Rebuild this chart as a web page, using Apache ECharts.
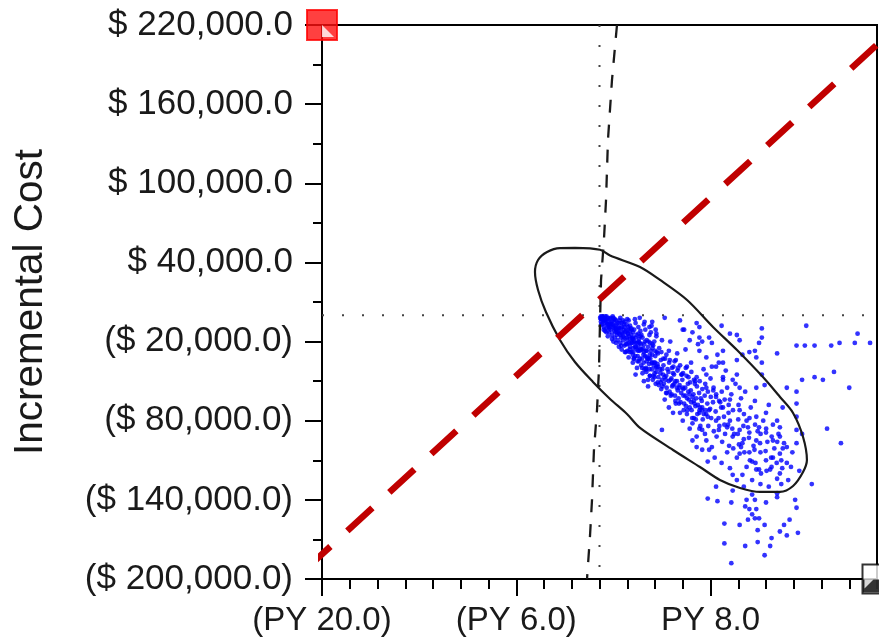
<!DOCTYPE html>
<html>
<head>
<meta charset="utf-8">
<script src="https://cdn.jsdelivr.net/npm/echarts@6/dist/echarts.min.js"></script>
<style>
  html, body { margin: 0; padding: 0; background: #fff; }
  #chart { width: 879px; height: 639px; }
</style>
</head>
<body>
<div id="chart"></div>
<script>
// Incremental cost is kept in thousands of dollars; labels print full dollars.
const costTicks = [-200, -140, -80, -20, 40, 100, 160, 220];
const costMinorTicks = [-170, -110, -50, 10, 70, 130, 190];
const effectLabelTicks = [-20, -6, 8];

// Willingness-to-pay threshold line (effect, cost k$)
const wtpLine = [[-21.2, -192.8], [19.96, 204.7]];

// Confidence ellipse outline (effect, cost k$)
const ellipse = [
  [-1.77, 51.0], [0.04, 49.6], [0.76, 45.2], [2.92, 36.5], [4.36, 26.7], [6.31, 11.5],
  [8.18, -8.9], [9.91, -26.4], [11.78, -46.9], [13.01, -62.0], [13.95, -74.1], [14.67, -92.3],
  [14.95, -109.8], [14.67, -118.9], [13.95, -129.5], [13.01, -134.0], [11.57, -134.0], [10.13, -131.0],
  [8.68, -124.9], [7.24, -115.1], [5.30, -102.2], [2.92, -85.5], [1.98, -74.9], [0.76, -63.5],
  [-0.47, -50.6], [-1.77, -35.5], [-2.85, -18.8], [-3.86, 2.4], [-4.43, 19.1], [-4.65, 32.7],
  [-4.43, 41.8], [-3.78, 47.9], [-2.85, 50.9], [-1.77, 51.0]
];

// Near-vertical dashed trace (effect, cost k$)
const dashedTrace = [
  [1.26, 220], [0.90, 178.3], [0.61, 132.8], [0.47, 87.3], [0.32, 57.0], [0.11, 26.7],
  [0.04, -3.6], [-0.04, -41.5], [-0.18, -71.9], [-0.40, -102.2], [-0.54, -140.1],
  [-0.68, -166.6], [-0.83, -189.4], [-0.90, -200]
];

// Simulated incremental (effect, cost k$) pairs
const samplesNearOrigin = [
  [0.1,-1],[0.2,-3],[0.1,-5],[0.3,-2],[0.4,-6],[0.3,-9],[0.5,-1],[0.6,-4],[0.5,-10],[0.7,-7],
  [0.8,-2],[0.7,-13],[0.9,-5],[1.0,-9],[0.9,-15],[1.1,-3],[1.2,-11],[1.1,-17],[1.3,-6],[1.4,-14],
  [1.3,-19],[1.5,-2],[1.6,-9],[1.5,-21],[1.7,-16],[1.8,-5],[1.8,-23],[1.9,-12],[2.0,-19],[2.1,-4],
  [2.0,-27],[2.2,-8],[2.3,-15],[2.2,-24],[2.4,-30],[2.5,-11],[2.6,-6],[2.5,-20],[2.7,-26],[2.8,-14],
  [2.9,-33],[2.8,-9],[3.0,-22],[3.1,-17],[3.0,-38],[3.2,-28],[3.3,-11],[3.4,-35],[3.5,-24],[3.4,-19],
  [3.6,-41],[3.7,-13],[3.8,-30],[3.9,-46],[3.8,-22],[4.0,-36],[4.1,-16],[4.2,-51],[4.0,-27],[0.2,-7],
  [0.4,-12],[0.6,-16],[0.8,-11],[1.0,-20],[1.2,-7],[1.4,-24],[1.6,-26],[1.7,-4],[1.9,-28],[2.1,-32],
  [2.3,-10],[2.4,-36],[2.6,-17],[2.7,-40],[2.9,-21],[3.1,-44],[3.2,-7],[3.3,-31],[3.5,-49],[3.6,-15],
  [3.7,-27],[3.9,-38],[4.1,-43],[0.15,-2],[0.35,-4],[0.55,-7],[0.75,-3],[0.95,-1],[1.15,-13],[1.35,-9],
  [1.55,-17],[1.75,-11],[1.95,-7],[2.15,-21],[2.35,-18],[2.55,-3],[2.75,-31],[2.95,-12],[3.15,-25],[3.35,-40],
  [3.55,-33],[3.75,-8],[3.95,-20],[1.05,-4],[1.25,-15],[1.45,-6],[2.05,-14],[2.45,-25],[2.85,-18],[3.25,-5],
  [3.65,-21],[4.05,-11],
  [0.25,-4],[0.45,-3],[0.65,-9],[0.85,-7],[1.05,-12],[0.2,-1],[0.4,-1],[0.6,-2],[0.8,-6],[1.0,-2],
  [1.2,-4],[1.4,-10],[1.6,-13],[1.8,-9],[1.3,-13],[1.5,-15],[1.7,-19],[1.9,-22],[0.5,-13],[0.7,-10],
  [1.1,-10],[1.6,-6],[2.0,-3],[2.2,-12],[2.4,-17],[2.6,-21],[2.8,-24],[1.8,-17],[2.3,-28],[0.3,-11],
  [0.1,-3],[0.05,-2],[0.12,-7],[0.9,-18],[1.2,-21],[2.5,-33]
];

const samplesBand = [
  [6.5,-19],[7.2,-27],[7.7,-32],[8.4,-39],[8.9,-47],[8.4,-62],[7.7,-55],[7.0,-47],[6.3,-39],[5.5,-34],
  [5.0,-27],[4.5,-19],[4.1,-14],[3.6,-9],[5.3,-44],[6.0,-55],[6.7,-62],[7.4,-70],[4.1,-39],[4.5,-49],
  [3.4,-32],[3.8,-36],[4.8,-59],[5.5,-67],[8.9,-70],[9.4,-64],[9.6,-49],[9.9,-34],[7.9,-17],[7.2,-9],
  [5.8,-4],[8.9,-27],
  [4.3,-25],[4.6,-33],[4.9,-41],[5.1,-20],[5.4,-52],[5.6,-29],[5.9,-45],[6.2,-26],[6.4,-58],[6.6,-36],
  [6.9,-50],[7.1,-22],[7.3,-63],[7.5,-41],[7.8,-77],[8.0,-48],[8.2,-57],[8.5,-30],[8.7,-66],[9.0,-83],
  [9.1,-42],[9.3,-74],[9.5,-60],[9.7,-90],[9.8,-52],[10.0,-79],[10.2,-63],[10.4,-94],[10.5,-58],[10.7,-85],
  [10.9,-70],[11.1,-99],[11.2,-65],[11.4,-88],[11.6,-104],[11.8,-80],[12.1,-96],[12.2,-68],[12.4,-115],[12.6,-101],
  [12.9,-90],[13.1,-110],[13.3,-97],[13.6,-125],[13.9,-104],[14.4,-118],[14.6,-90],[5.2,-60],[5.7,-63],[6.1,-67],
  [6.3,-75],[6.8,-78],[7.2,-86],[7.6,-90],[8.1,-100],[8.3,-108],[8.8,-112],[9.2,-104],[9.4,-116],[4.4,-51],
  [4.7,-64],[3.2,-50],[3.5,-54],[2.6,-45],[6.5,-86],[7.0,-92],[5.0,-70],[9.9,-108],
  [5.3,-74],[5.8,-74],[6.0,-80],[6.5,-70],[6.7,-82],[7.2,-74],[7.4,-87],[7.7,-95],[7.9,-102],[6.7,-95],
  [7.0,-100],[7.4,-102],[7.9,-72],[8.4,-80],[8.6,-87],[9.2,-85],[9.4,-80],[9.6,-92],[10.1,-87],[10.3,-97],
  [10.1,-105],[10.8,-104],[11.0,-111],[10.6,-115],[11.3,-117],[11.5,-117],[11.0,-125],[10.3,-121],[9.6,-121],[9.9,-125],
  [12.0,-110],[12.5,-108],[13.0,-105],[12.3,-117],[12.8,-124],[13.0,-120],[13.5,-112],[13.8,-115],[12.5,-95],[13.0,-92],
  [12.0,-89],[11.3,-95],[11.5,-85],[12.5,-83],[13.0,-85],[12.0,-74],[11.3,-77],[10.6,-80],[10.1,-72],[14.2,-77],
  [14.2,-87],[14.2,-97],[14.2,-67],[13.2,-70],[12.8,-80],[13.5,-100],[10.8,-89],[10.2,-100],
  [2.9,-2],[3.8,-5],[4.7,-2],[6.0,-11],[7.0,-6],[7.2,-17],[7.4,-20],[6.7,-13],[6.1,-11],[8.8,-8],
  [9.4,-14],[9.9,-15],[10.1,-19],[8.1,-21],[11.7,-10],[11.7,-17],[11.5,-21],[11.2,-27],[10.3,-30],[10.8,-28],
  [11.3,-32],[11.7,-36],[11.7,-45],[11.9,-53],[11.3,-55],[10.1,-55],[9.9,-45],[8.9,-49],[9.2,-55],[8.6,-36],
  [8.9,-36],[8.1,-39],[7.7,-45],[12.8,-29],[11.6,-128],[12.2,-130],[10.4,-130],[13.1,-128]
];

// Main diagonal of the cloud, where samples pile up most
const samplesCore = [
  [2.03,-14],[1.98,-22],[2.07,-9],[2.21,-18],[2.18,-26],[2.41,-13],[2.37,-21],[2.44,-28],[2.62,-24],[2.58,-31],
  [2.81,-20],[2.77,-27],[2.84,-35],[3.02,-15],[2.97,-26],[3.05,-33],[3.22,-22],[3.18,-36],[3.24,-41],[3.41,-27],
  [3.38,-43],[3.62,-30],[3.57,-37],[3.64,-46],[3.81,-25],[3.78,-41],[3.84,-49],[4.02,-31],[3.97,-44],[4.05,-52],
  [4.21,-29],[4.18,-37],[4.24,-47],[4.42,-34],[4.37,-41],[4.45,-56],[4.61,-38],[4.58,-45],[4.64,-52],[4.82,-30],
  [4.77,-49],[4.84,-55],[5.02,-36],[4.97,-43],[5.05,-58],[5.22,-40],[5.18,-48],[5.24,-54],[5.41,-35],[5.37,-45],
  [5.44,-61],[5.62,-42],[5.58,-50],[5.64,-57],[5.81,-38],[5.77,-53],[5.84,-66],[6.02,-44],[5.97,-49],[6.05,-61],
  [6.22,-40],[6.18,-55],[6.24,-69],[6.41,-47],[6.37,-52],[6.44,-64],[6.62,-43],[6.58,-57],[6.64,-72],[6.81,-49],
  [6.77,-60],[6.84,-67],[7.02,-54],[6.97,-63],[7.05,-75],[7.22,-50],[7.18,-59],[7.24,-70],[7.41,-56],[7.37,-65],
  [7.44,-79],[7.62,-52],[7.58,-61],[7.64,-72],[7.81,-58],[7.77,-67],[7.84,-84],[8.02,-62],[7.97,-71],[8.05,-78],
  [8.22,-55],[8.18,-66],[8.24,-88],[8.41,-60],[8.37,-73],[8.44,-92],[8.62,-65],[8.58,-78],[8.64,-84],[8.81,-58],
  [8.77,-70],[8.84,-96],[9.02,-64],[8.97,-77],[9.05,-90],[9.31,-68],[9.27,-83],[9.34,-99],[9.62,-72],[9.57,-86],
  [9.64,-101],[10.02,-68],[9.97,-90],[10.05,-98],[10.41,-75],[10.37,-84],[10.44,-104],[10.81,-78],[10.77,-93],[10.84,-110],
  [11.21,-83],[11.17,-102],[11.24,-112],[11.61,-90],[11.57,-97],[11.64,-120],[12.01,-86],[11.97,-103],[12.04,-118],[12.41,-92],
  [12.37,-108],[12.81,-96],[12.77,-112],[13.21,-101],[13.17,-116],
  [0.32,-3],[0.48,-5],[0.61,-7],[0.79,-9],[0.93,-7],[1.07,-8],[1.23,-10],[1.36,-12],[1.53,-10],[1.66,-14],
  [1.84,-13],[1.96,-17],[2.13,-16],[2.29,-21],[2.43,-18],[2.56,-24],[2.73,-21],[2.89,-27],[3.04,-26],[3.17,-30],
  [3.34,-27],[3.47,-33],[3.66,-33],[3.76,-36],[3.94,-36],[4.09,-40],[4.22,-39],[4.39,-44],[4.52,-41],[4.69,-47],
  [4.81,-46],[4.99,-50],[5.12,-49],[5.29,-53],[5.46,-50],[5.57,-55],[5.74,-55],[5.89,-59],[6.04,-56],[6.19,-61],
  [6.31,-63],[6.49,-60],[6.61,-66],[6.79,-65],[6.92,-69],[7.09,-68],[7.21,-72],[7.39,-72],[7.52,-75],[7.69,-75],
  [1.44,-4],[1.77,-7],[2.06,-11],[2.33,-11],[2.67,-15],[2.94,-16],[3.27,-20],[3.53,-20],[3.87,-23],[4.13,-28],
  [4.46,-28],[4.73,-33],[5.07,-34],[5.33,-39],[5.67,-40],[5.93,-45],[6.27,-46],[6.53,-51],[6.87,-52],
  [1.57,-23],[1.83,-28],[2.17,-28],[2.46,-33],[2.74,-35],[3.07,-40],[3.36,-41],[3.63,-46],[3.96,-47],[4.27,-53],
  [4.54,-54],[4.86,-59],[5.14,-61],[5.47,-65],[5.73,-67],[6.07,-72],[6.33,-72],[6.68,-78],[6.94,-79],[7.27,-84]
];

const samplesOuter = [
  [14.9,-8],[18.6,-14],[18.4,-21],[19.5,-21],[17.3,-21],[16.7,-23],[15.5,-23],[14.8,-23],[14.2,-23],[16.9,-43],
  [15.5,-47],[16.1,-49],[14.6,-49],[18.0,-55],[14.2,-58],[16.4,-86],[17.4,-97],[13.5,-55],
  [7.8,-111],[8.4,-130],[7.8,-139],[9.5,-142],[10.6,-140],[11.2,-140],[12.0,-142],[12.8,-138],[14.2,-146],[15.3,-128],
  [10.8,-147],[10.5,-145],[11.3,-147],[11.0,-151],[10.7,-155],[11.2,-154],[11.5,-154],[11.9,-159],[11.4,-163],[9.0,-158],
  [13.3,-159],[13.0,-164],[13.5,-167],[14.3,-165],[12.4,-169],[11.4,-172],[9.0,-173],[11.9,-182],[9.5,-188],[12.8,-135],
  [4.5,-87],[10.5,-175],[12.3,-175],[13.7,-155],[10.1,-159],[11.0,-136],[14.1,-140],[9.6,-133],[8.5,-141]
];

const FONT = "'Liberation Sans', Arial, sans-serif";
const INK = '#1a1a1a';

function withCommas(n) {
  const parts = n.toFixed(1).split('.');
  return parts[0].replace(/\B(?=(\d{3})+(?!\d))/g, ',') + '.' + parts[1];
}
function costLabel(k) {
  const s = withCommas(Math.abs(k * 1000));
  return k < 0 ? '($ ' + s + ')' : '$ ' + s;
}
function effectLabel(v) {
  const s = Math.abs(v).toFixed(1);
  return v < 0 ? '(PY ' + s + ')' : 'PY ' + s;
}

const chart = echarts.init(document.getElementById('chart'));

chart.setOption({
  animation: false,
  backgroundColor: '#fff',
  grid: {
    left: 322, right: 2, top: 25, bottom: 60,
    show: true, borderColor: '#000', borderWidth: 2,
    outerBoundsMode: 'none'
  },
  xAxis: [
    {
      type: 'value', min: -20, max: 20, interval: 2,
      axisLine: { onZero: false, lineStyle: { color: '#000', width: 2 } },
      axisTick: { show: true, length: 10, lineStyle: { color: '#000', width: 2 } },
      axisLabel: {
        customValues: effectLabelTicks, formatter: effectLabel,
        fontFamily: FONT, fontSize: 33, color: INK, margin: 25
      },
      splitLine: { show: false }
    },
    {
      type: 'value', min: -20, max: 20, position: 'bottom',
      axisLine: { show: false, onZero: false },
      axisTick: { show: true, customValues: effectLabelTicks, length: 17, lineStyle: { color: '#000', width: 2 } },
      axisLabel: { show: false },
      splitLine: { show: false }
    }
  ],
  yAxis: [
    {
      type: 'value', min: -200, max: 220, position: 'left',
      name: 'Incremental Cost', nameLocation: 'middle', nameRotate: 90, nameGap: 271,
      nameTextStyle: { fontFamily: FONT, fontSize: 40.5, color: INK },
      axisLine: { show: true, onZero: false, lineStyle: { color: '#000', width: 2 } },
      axisTick: { show: true, customValues: costTicks, length: 17, lineStyle: { color: '#000', width: 2 } },
      axisLabel: {
        customValues: costTicks, formatter: costLabel,
        fontFamily: FONT, fontSize: 35, color: INK, margin: 29
      },
      splitLine: { show: false }
    },
    {
      type: 'value', min: -200, max: 220, position: 'left',
      axisLine: { show: false, onZero: false },
      axisTick: { show: true, customValues: costMinorTicks, length: 9, lineStyle: { color: '#000', width: 2 } },
      axisLabel: { show: false },
      splitLine: { show: false }
    }
  ],
  series: [
    {
      name: 'zero cost', type: 'line', data: [[-20, 0], [20, 0]], symbol: 'none',
      lineStyle: { color: '#444', width: 2, type: [2, 18] }, z: 1
    },
    {
      name: 'zero effect', type: 'line', data: [[0, 220], [0, -200]], symbol: 'none',
      lineStyle: { color: '#444', width: 2, type: [2, 18] }, z: 1
    },
    {
      name: 'samples', type: 'scatter', symbol: 'circle', symbolSize: 4.8,
      itemStyle: { color: '#0000ff' },
      data: samplesNearOrigin.concat(samplesBand, samplesCore, samplesOuter), z: 2
    },
    {
      name: 'ellipse', type: 'line', data: ellipse, symbol: 'none', smooth: 0.3,
      lineStyle: { color: '#1a1a1a', width: 2.2 }, z: 3
    },
    {
      name: 'dashed trace', type: 'line', data: dashedTrace, symbol: 'none',
      lineStyle: { color: '#1a1a1a', width: 2.3, type: [13, 12] }, z: 3
    },
    {
      name: 'WTP', type: 'line', data: wtpLine, symbol: 'none', clip: false,
      lineStyle: { color: '#c00000', width: 6.5, type: [34, 23], cap: 'butt' }, z: 4
    },
    {
      name: 'upper marker', type: 'scatter', clip: false, z: 5,
      data: [[-20, 220]], symbol: 'rect', symbolSize: 30,
      itemStyle: { color: '#ff1010', borderColor: '#ff0000', borderWidth: 2 }
    },
    {
      name: 'upper marker notch', type: 'scatter', clip: false, z: 6,
      data: [[-20, 220]], symbol: 'path://M0,0 L0,10 L10,10 Z', symbolSize: 12, symbolOffset: [6, 6],
      itemStyle: { color: '#ffffff' }
    },
    {
      name: 'lower marker', type: 'scatter', clip: false, z: 5,
      data: [[20, -200]], symbol: 'rect', symbolSize: 29,
      itemStyle: { color: '#ffffff', borderColor: '#000', borderWidth: 2 }
    },
    {
      name: 'lower marker fill', type: 'scatter', clip: false, z: 6,
      data: [[20, -200]], symbol: 'rect', symbolSize: [28, 13], symbolOffset: [0, 7],
      itemStyle: { color: '#000' }
    },
    {
      name: 'lower marker notch', type: 'scatter', clip: false, z: 7,
      data: [[20, -200]], symbol: 'path://M0,0 L10,0 L0,10 Z', symbolSize: 9, symbolOffset: [-8, 5],
      itemStyle: { color: '#fff' }
    }
  ]
});
</script>
</body>
</html>
